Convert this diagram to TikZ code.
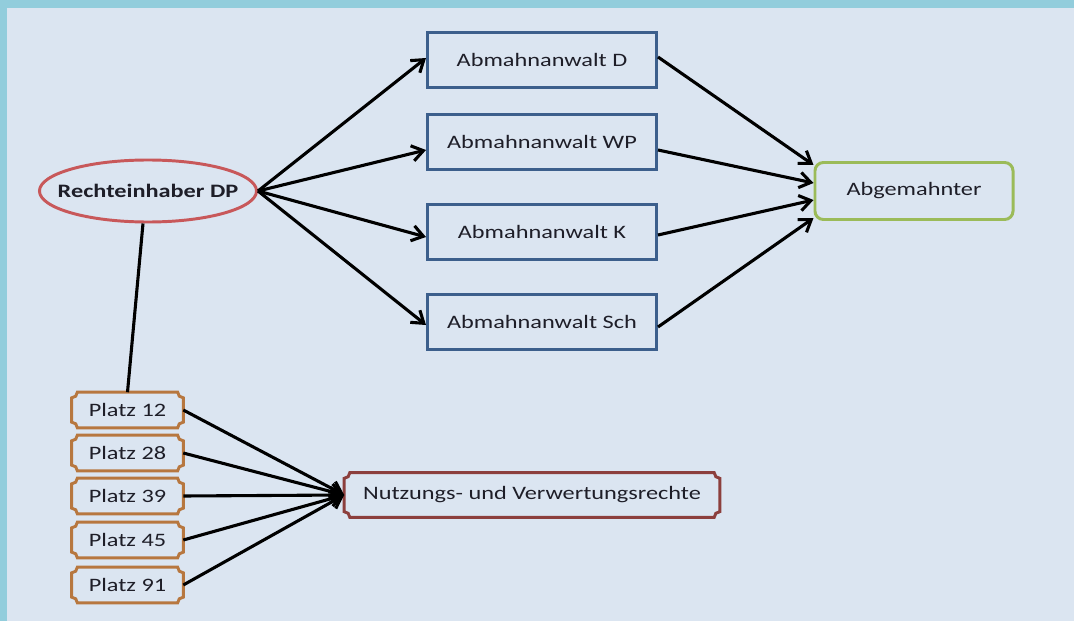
\documentclass[tikz,border=0pt]{standalone}
\usepackage{fontspec}
\setmainfont{Carlito}[FakeStretch=1.28]
\usetikzlibrary{arrows.meta,shapes.geometric}

\definecolor{rand}{HTML}{92CDDC}
\definecolor{hinter}{HTML}{DBE5F1}
\definecolor{rotrand}{HTML}{C8585A}
\definecolor{blaurand}{HTML}{3C5F8C}
\definecolor{gruenrand}{HTML}{9BBB59}
\definecolor{braunrand}{HTML}{B7773F}
\definecolor{dunkelrot}{HTML}{8C3F3D}
\definecolor{schrift}{HTML}{1E1E28}

% Plakette mit eingezogenen Ecken um einen Knoten
\newcommand{\plakette}[2]{%
  \draw[#2, line width=2.1pt]
    ([xshift=4pt]#1.north west) -- ([xshift=-4pt]#1.north east)
    arc[start angle=180, end angle=270, radius=4pt]
    -- ([yshift=4pt]#1.south east)
    arc[start angle=90, end angle=180, radius=4pt]
    -- ([xshift=4pt]#1.south west)
    arc[start angle=0, end angle=90, radius=4pt]
    -- ([yshift=-4pt]#1.north west)
    arc[start angle=270, end angle=360, radius=4pt]
    -- cycle;}

\begin{document}
\begin{tikzpicture}[
  x=0.025cm, y=0.025cm,
  every node/.style={
    font=\fontsize{13.5}{16}\selectfont,
    text=schrift
  },
  anwalt/.style={
    draw=blaurand,
    line width=2.1pt,
    minimum width=5.725cm,
    minimum height=1.375cm,
    inner sep=0pt
  },
  platz/.style={
    minimum width=2.775cm,
    minimum height=0.875cm,
    inner sep=0pt
  },
  pfeil/.style={
    line width=2.2pt,
    -{Straight Barb[length=8pt,width=11pt]}
  },
  linie/.style={
    line width=2.2pt
  }
]

  % Hintergrund
  \fill[rand] (0,0) rectangle (1074,621);
  \fill[hinter] (7,0) rectangle (1074,613);
  \useasboundingbox (0,0) rectangle (1074,621);

  % Rechteinhaber
  \node[
    ellipse,
    draw=rotrand,
    line width=2.1pt,
    minimum width=5.425cm,
    minimum height=1.55cm,
    inner xsep=-0.45cm,
    inner ysep=0pt,
    font=\fontsize{13.5}{16}\selectfont\bfseries
  ] (rechte) at (148,430) {Rechteinhaber DP};

  % Abmahnanwaelte
  \node[anwalt] (anwD) at (542,561) {Abmahnanwalt D};
  \node[anwalt] (anwWP) at (542,479) {Abmahnanwalt WP};
  \node[anwalt] (anwK) at (542,389) {Abmahnanwalt K};
  \node[anwalt] (anwSch) at (542,299) {Abmahnanwalt Sch};

  % Abgemahnter
  \node[
    draw=gruenrand,
    line width=2.1pt,
    rounded corners=6pt,
    minimum width=4.95cm,
    minimum height=1.425cm,
    inner sep=0pt
  ] (abgemahnt) at (914,430) {Abgemahnter};

  % Pfeile zu den Anwaelten
  \draw[pfeil] (rechte.east) -- ([yshift=0.05cm]anwD.west);
  \draw[pfeil] (rechte.east) -- ([yshift=-0.2cm]anwWP.west);
  \draw[pfeil] (rechte.east) -- ([yshift=-0.125cm]anwK.west);
  \draw[pfeil] (rechte.east) -- ([yshift=-0.075cm]anwSch.west);

  % Pfeile zum Abgemahnten
  \draw[pfeil] ([yshift=0.075cm]anwD.east) -- ([yshift=0.65cm]abgemahnt.west);
  \draw[pfeil] ([yshift=-0.2cm]anwWP.east) -- ([yshift=0.2cm]abgemahnt.west);
  \draw[pfeil] ([yshift=-0.075cm]anwK.east) -- ([yshift=-0.225cm]abgemahnt.west);
  \draw[pfeil] ([yshift=-0.125cm]anwSch.east) -- ([yshift=-0.675cm]abgemahnt.west);

  % Nutzungs- und Verwertungsrechte
  \node[
    minimum width=9.375cm,
    minimum height=1.1cm,
    inner sep=0pt
  ] (nutzung) at (532,126) {Nutzungs- und Verwertungsrechte};
  \plakette{nutzung}{dunkelrot}

  % Plaetze
  \foreach \nr/\y in {12/211, 28/168, 39/125, 45/81, 91/36} {
    \node[platz] (p\nr) at (127.5,\y) {Platz \nr};
    \plakette{p\nr}{braunrand}
    \draw[pfeil] (p\nr.east) -- (nutzung.west);
  }

  % Verbindung Rechteinhaber - Platz 12
  \draw[linie] ([xshift=-0.125cm]rechte.south) -- (p12.north);

\end{tikzpicture}
\end{document}
